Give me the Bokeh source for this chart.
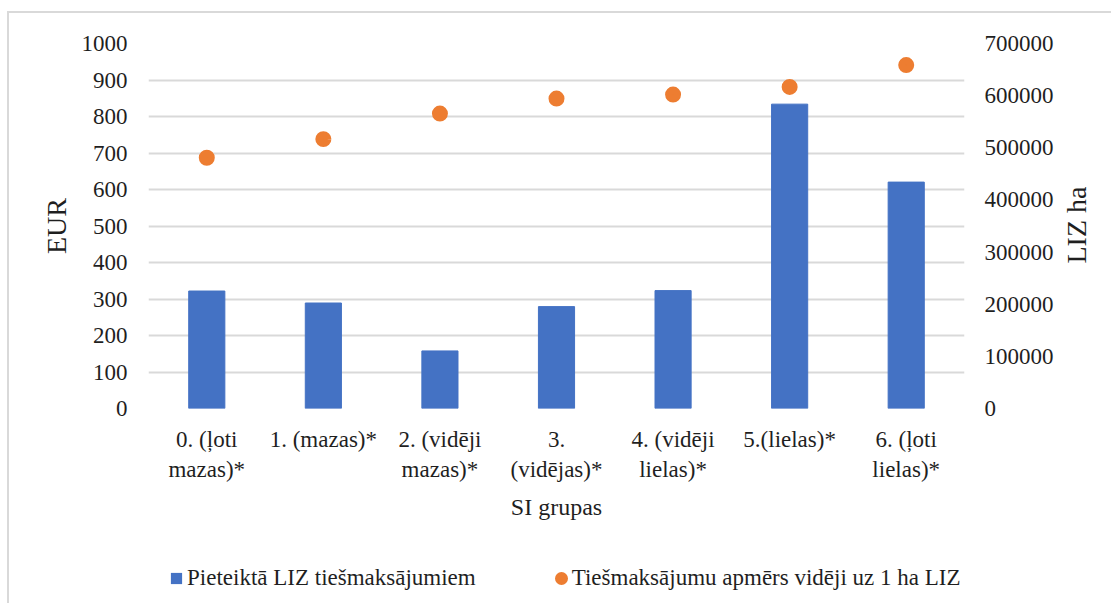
import math
from bokeh.plotting import figure
from bokeh.layouts import column
from bokeh.models import (Range1d, LinearAxis, FixedTicker, BasicTickFormatter,
                          Legend, LegendItem)
from bokeh.embed import file_html
from bokeh.resources import INLINE

categories = ["0. (ļoti\nmazas)*", "1. (mazas)*", "2. (vidēji\nmazas)*", "3.\n(vidējas)*",
              "4. (vidēji\nlielas)*", "5.(lielas)*", "6. (ļoti\nlielas)*"]
liz_ha = [225300, 202300, 110400, 195400, 226100, 583700, 434200]
eur_per_ha = [687, 738, 808, 849, 860, 881, 941]
eur_ticks = list(range(0, 1001, 100))
liz_ticks = list(range(0, 700001, 100000))
series_names = ["Pieteiktā LIZ tiešmaksājumiem", "Tiešmaksājumu apmērs vidēji uz 1 ha LIZ"]
right_title = "LIZ ha"
RIGHT_TITLE_START = 278000   # where the upward-reading right title begins, on the LIZ scale

FONT = "Liberation Serif"
TXT = "#1f1f1f"
GRID = "#d9d9d9"
BLUE = "#4472C4"
ORANGE = "#ED7D31"
W = 1102

xs = list(range(len(categories)))

# ---------------- main chart ----------------
p = figure(width=W, height=530, output_backend="svg", toolbar_location=None,
           x_range=Range1d(-0.5, len(categories) - 0.5), y_range=Range1d(0, 1000),
           min_border_left=139, min_border_right=147, min_border_top=30, min_border_bottom=135)
p.outline_line_color = None
p.extra_y_ranges = {"liz": Range1d(0, 700000)}

p.vbar(x=xs, top=liz_ha, width=0.31, y_range_name="liz", fill_color=BLUE, line_color=BLUE)
p.scatter(x=xs, y=eur_per_ha, size=8.6, line_width=7.4, fill_color=ORANGE, line_color=ORANGE)

p.xaxis.ticker = FixedTicker(ticks=xs)
p.xaxis.major_label_overrides = {i: c for i, c in enumerate(categories)}
p.xaxis.axis_label = "SI grupas"
p.yaxis.ticker = FixedTicker(ticks=eur_ticks)
p.yaxis.axis_label = "EUR"

right = LinearAxis(y_range_name="liz", ticker=FixedTicker(ticks=liz_ticks),
                   formatter=BasicTickFormatter(use_scientific=False))
p.add_layout(right, "right")
# second right axis whose only label is the title, reading bottom-to-top
right_t = LinearAxis(y_range_name="liz", ticker=FixedTicker(ticks=[RIGHT_TITLE_START]),
                     major_label_overrides={RIGHT_TITLE_START: right_title},
                     major_label_orientation=math.pi / 2)
p.add_layout(right_t, "right")

for ax in [p.xaxis[0], p.yaxis[0], right, right_t]:
    ax.axis_line_color = None
    ax.major_tick_line_color = None
    ax.minor_tick_line_color = None
    ax.major_tick_out = 0
    ax.major_tick_in = 0
    ax.minor_tick_out = 0
    ax.minor_tick_in = 0
    ax.major_label_text_font = FONT
    ax.major_label_text_font_size = "23px"
    ax.major_label_text_color = TXT
    ax.axis_label_text_font = FONT
    ax.axis_label_text_font_style = "normal"
    ax.axis_label_text_color = TXT

right_t.major_label_text_font_size = "28px"
right_t.major_label_standoff = 20
p.yaxis[0].axis_label_text_font_size = "28px"
p.xaxis[0].axis_label_text_font_size = "24px"
p.yaxis[0].major_label_standoff = 21
right.major_label_standoff = 20
p.yaxis[0].axis_label_standoff = 7
p.xaxis[0].major_label_standoff = 18
p.xaxis[0].axis_label_standoff = 9

p.xgrid.grid_line_color = None
p.ygrid.grid_line_color = GRID
p.ygrid.grid_line_width = 2

# ---------------- legend strip ----------------
# the same series, with ranges that keep them off-screen: they only act as legend keys
pl = figure(width=W, height=60, output_backend="svg", toolbar_location=None,
            x_range=Range1d(-101, -100), y_range=Range1d(1e7, 1e7 + 1),
            x_axis_location=None, y_axis_location=None,
            min_border_left=0, min_border_right=0, min_border_top=0, min_border_bottom=0)
pl.outline_line_color = None
pl.xgrid.grid_line_color = None
pl.ygrid.grid_line_color = None
key_bar = pl.vbar(x=xs, top=liz_ha, width=0.31, fill_color=BLUE, line_color=None)
key_dot = pl.scatter(x=xs, y=eur_per_ha, size=8.6, line_width=7.4,
                     fill_color=ORANGE, line_color=ORANGE)

legend_x = 21
try:
    p.frame_align = False
    pl.frame_align = False
    legend_x = 160
except Exception:
    pass

legend = Legend(items=[LegendItem(label=series_names[0], renderers=[key_bar]),
                       LegendItem(label=series_names[1], renderers=[key_dot])],
                orientation="horizontal", location=(legend_x, 10),
                glyph_width=14, glyph_height=14, label_standoff=4, spacing=78,
                label_height=30)
legend.border_line_color = None
legend.background_fill_alpha = 0
legend.padding = 0
legend.margin = 0
legend.label_text_font = FONT
legend.label_text_font_size = "23px"
legend.label_text_color = TXT
pl.add_layout(legend, "center")

layout = column(p, pl, spacing=0,
                styles={"border-left": "2px solid #d9d9d9", "border-top": "2px solid #d9d9d9",
                        "margin-top": "11px", "margin-left": "7px"})

open("out.html", "w").write(file_html(layout, INLINE))
